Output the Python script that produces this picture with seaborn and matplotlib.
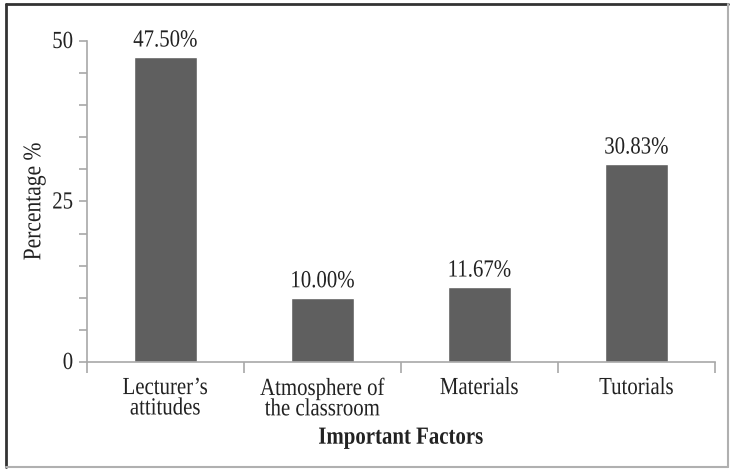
import matplotlib
matplotlib.use("Agg")
import matplotlib.pyplot as plt
import seaborn as sns
import pandas as pd
from matplotlib.ticker import MultipleLocator, FixedLocator, NullFormatter
from matplotlib.lines import Line2D
from matplotlib.transforms import Affine2D
from matplotlib import patheffects

categories = ["Lecturer\u2019s\nattitudes", "Atmosphere of\nthe classroom", "Materials", "Tutorials"]
values = [47.50, 10.00, 11.67, 30.83]
value_labels = ["47.50%", "10.00%", "11.67%", "30.83%"]


class Stretch(patheffects.AbstractPathEffect):
    """Stretch glyphs perpendicular to the baseline (condensed look)."""
    def __init__(self, sy=1.2):
        super().__init__()
        self.sy = sy

    def draw_path(self, renderer, gc, tpath, affine, rgbFace=None):
        renderer.draw_path(gc, tpath, Affine2D().scale(1, self.sy) + affine, rgbFace)


STRETCH = [Stretch(1.18)]

sns.set_theme(style="white")
plt.rcParams["font.family"] = ["Liberation Serif", "DejaVu Serif"]
plt.rcParams["font.size"] = 15

df = pd.DataFrame({"cat": categories, "val": values})

W, H = 736, 469
fig = plt.figure(figsize=(W / 100, H / 100), dpi=100)
ax = fig.add_axes([87 / W, 1 - 362 / H, (715 - 87) / W, (362 - 41) / H])
sns.barplot(data=df, x="cat", y="val", color="#5f5f5f", saturation=1, width=0.4, ax=ax)

ax.set_xlim(-0.5, 3.5)
ax.set_ylim(0, 50)

for sp in ["top", "right"]:
    ax.spines[sp].set_visible(False)
for sp in ["left", "bottom"]:
    ax.spines[sp].set_color("#a8a8a8")
    ax.spines[sp].set_linewidth(1.2)

# y ticks
ax.yaxis.set_major_locator(MultipleLocator(25))
ax.yaxis.set_minor_locator(MultipleLocator(5))
ax.tick_params(axis="y", which="both", direction="out", length=6, width=1.2,
               color="#a8a8a8", left=True, labelsize=15, pad=4, labelcolor="#222222")

# x ticks: marks at category boundaries, labels at centers
ax.xaxis.set_major_locator(FixedLocator([-0.5, 0.5, 1.5, 2.5, 3.5]))
ax.xaxis.set_major_formatter(NullFormatter())
ax.xaxis.set_minor_locator(FixedLocator([0, 1, 2, 3]))
ax.set_xticklabels(categories, minor=True, linespacing=1.1)
ax.tick_params(axis="x", which="major", direction="out", length=8, width=1.2,
               color="#a8a8a8", bottom=True)
ax.tick_params(axis="x", which="minor", length=0, labelsize=15, pad=13, labelcolor="#222222")

ax.set_xlabel("Important Factors", fontsize=15, fontweight="bold", labelpad=6, color="#222222")
ax.set_ylabel("Percentage %", fontsize=15.5, labelpad=5, color="#222222")

for i, (v, t) in enumerate(zip(values, value_labels)):
    ax.annotate(t, xy=(i, v), xytext=(0, 4), textcoords="offset points",
                ha="center", va="bottom", fontsize=15, color="#222222",
                path_effects=STRETCH)

for lab in ax.get_xticklabels(minor=True) + ax.get_yticklabels():
    lab.set_path_effects(STRETCH)
ax.xaxis.label.set_path_effects(STRETCH)
ax.yaxis.label.set_path_effects(STRETCH)

# figure frame: darker top/left, lighter bottom/right
x0, x1 = 6 / W, 728 / W
y0, y1 = 1 - 467 / H, 1 - 4 / H
fig.add_artist(Line2D([x0, x1], [y1, y1], transform=fig.transFigure, color="#333333", lw=2))
fig.add_artist(Line2D([x0, x0], [y0, y1], transform=fig.transFigure, color="#333333", lw=2))
fig.add_artist(Line2D([x0, x1], [y0, y0], transform=fig.transFigure, color="#b0b0b0", lw=1.5))
fig.add_artist(Line2D([x1, x1], [y0, y1], transform=fig.transFigure, color="#b0b0b0", lw=1.5))

fig.savefig("out.png", dpi=100)
